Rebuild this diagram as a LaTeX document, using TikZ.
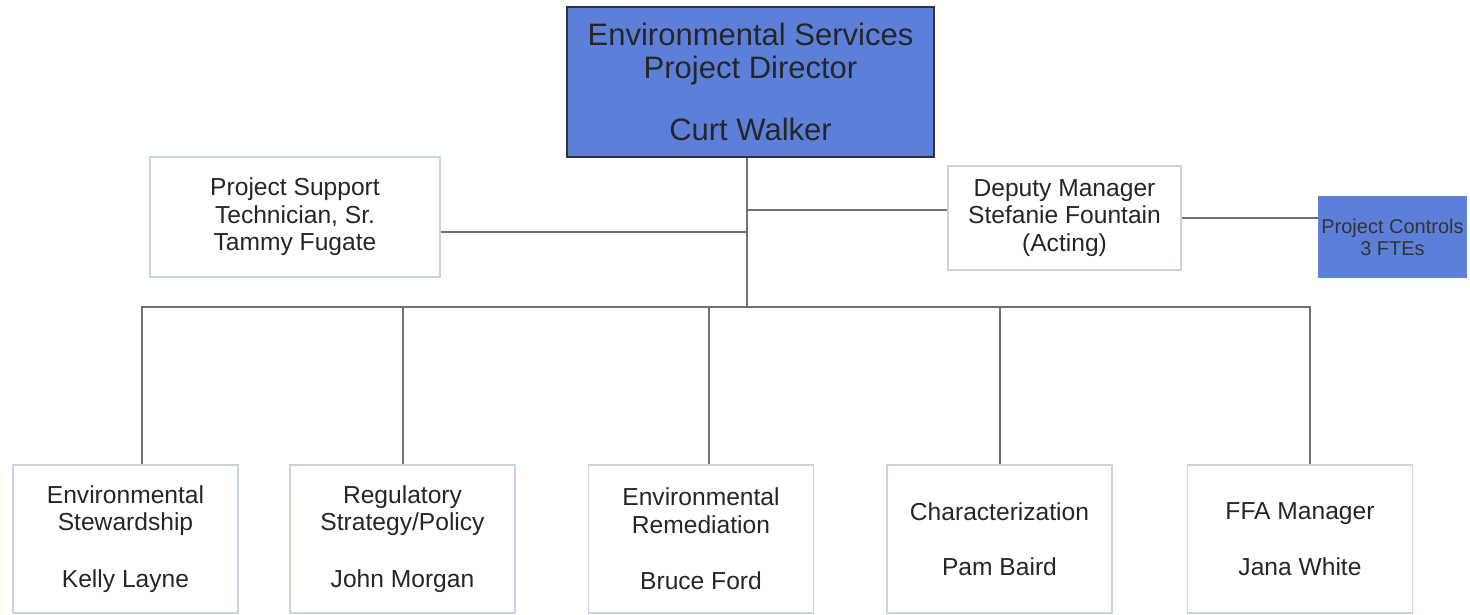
\documentclass[tikz,border=0pt]{standalone}
\usepackage{fontspec}
\setmainfont{Liberation Sans}
\usetikzlibrary{positioning}
\definecolor{dirblue}{RGB}{92,128,218}
\definecolor{boxedge}{RGB}{200,212,224}
\definecolor{linegray}{RGB}{112,112,112}

\begin{document}
\begin{tikzpicture}[x=1pt, y=-1pt,
        lightbox/.style={draw=boxedge, line width=1.3pt, fill=white, align=center, inner sep=0pt,
            text=black!85, font=\fontsize{24.6}{27.5}\selectfont},
        dirbox/.style={draw=black!80, line width=1.5pt, fill=dirblue, align=center, inner sep=0pt,
            text=black!85, font=\fontsize{31}{33}\selectfont},
        ctrlbox/.style={fill=dirblue, align=center, inner sep=0pt, text=black!80,
            font=\fontsize{20}{22}\selectfont},
        staff/.style={lightbox, minimum width=225pt, minimum height=148pt},
        link/.style={draw=linegray, line width=1.5pt}]
    \useasboundingbox (0,0) rectangle (1470,614);

    % top row
    \node[dirbox, minimum width=367pt, minimum height=150pt] (dir) at (750.5,82)
        {Environmental Services\\Project Director\\[29pt]Curt Walker};
    \node[lightbox, minimum width=290pt, minimum height=120pt] (support) at (295,217)
        {Project Support\\Technician, Sr.\\Tammy Fugate};
    \node[lightbox, minimum width=233pt, minimum height=104pt] (deputy) at (1064.5,218)
        {Deputy Manager\\Stefanie Fountain\\(Acting)};
    \node[ctrlbox, minimum width=149pt, minimum height=82pt] (controls) at (1392.5,237)
        {Project Controls\\3 FTEs};

    % bottom row
    \node[staff] (es) at (125.5,539) {Environmental\\Stewardship\\[29pt]Kelly Layne};
    \node[staff] (rs) at (402.5,539) {Regulatory\\Strategy/Policy\\[29pt]John Morgan};
    \node[staff] (er) at (701,539) {Environmental\\Remediation\\[29pt]Bruce Ford};
    \node[staff] (ch) at (999.5,539) {Characterization\\[28pt]Pam Baird};
    \node[staff] (ffa) at (1300,539) {FFA Manager\\[28pt]Jana White};

    % connectors
    \coordinate (bus) at (747,307);
    \draw[link] (dir.south -| bus) -- (bus);
    \draw[link] ([yshift=-15pt]support.east) -- ([yshift=-15pt]support.east -| bus);
    \draw[link] ([yshift=8pt]deputy.west) -- ([yshift=8pt]deputy.west -| bus);
    \draw[link] (deputy.east) -- (deputy.east -| controls.west);
    \draw[link] ([xshift=16.5pt]es.north) |- ([xshift=10pt]ffa.north |- bus)
        -- ([xshift=10pt]ffa.north);
    \foreach \n/\dx in {rs/0.5, er/8, ch/0.5}
        \draw[link] ([xshift=\dx pt]\n.north) -- ([xshift=\dx pt]\n.north |- bus);
\end{tikzpicture}
\end{document}
